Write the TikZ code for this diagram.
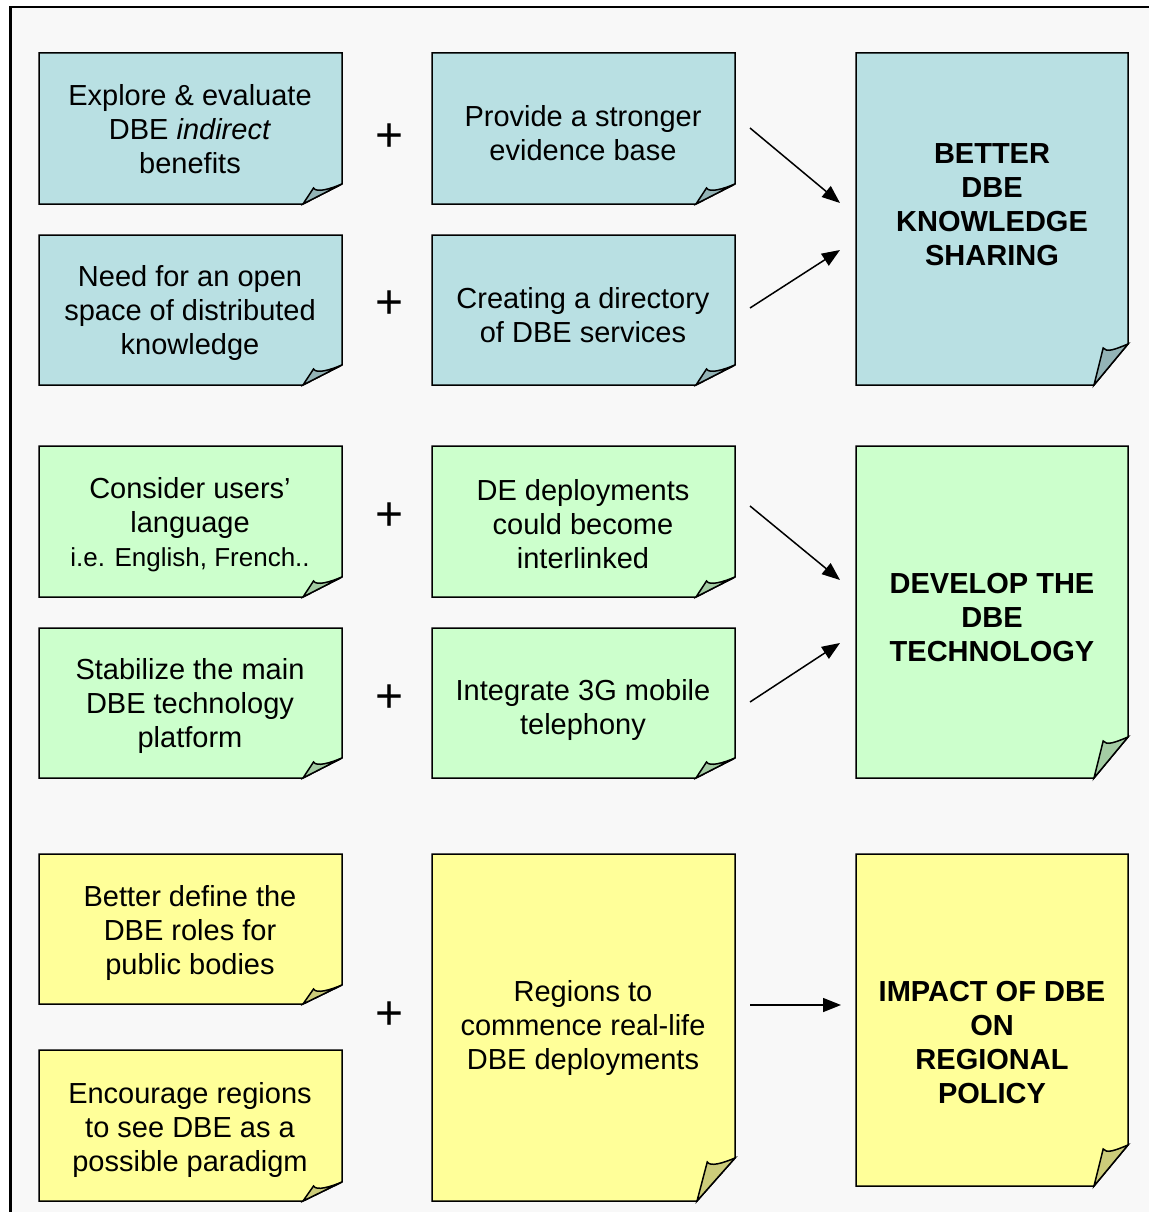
\documentclass[tikz,border=0pt]{standalone}
\usepackage{fontspec}
\setmainfont{Liberation Sans}
\usetikzlibrary{arrows.meta}
\definecolor{bluebody}{HTML}{B9E0E3}
\definecolor{bluefold}{HTML}{93B3B6}
\definecolor{greenbody}{HTML}{CCFFCC}
\definecolor{greenfold}{HTML}{A3CCA3}
\definecolor{yellowbody}{HTML}{FFFF99}
\definecolor{yellowfold}{HTML}{CCCC7A}
\definecolor{panel}{HTML}{F8F8F8}
% #1 colour prefix, #2 x0, #3 y0, #4 x1, #5 y1, #6 fold dx, #7 fold dy
\newcommand\paper[7]{%
  \draw[paperline, fill=#1body] (#2,#3) -- (#4,#3) -- (#4,#5-#7) -- (#4-#6,#5) -- (#2,#5) -- cycle;
  \draw[paperline, fill=#1fold] (#4-#6,#5) -- (#4-#6+0.27*#6,#5-#7+4)
     .. controls (#4-#6+0.27*#6+3,#5-#7+9) and (#4-12,#5-#7+5) .. (#4,#5-#7) -- cycle;
}
\begin{document}
\begin{tikzpicture}[x=1pt,y=-1pt,
  paperline/.style={line width=1.5pt, line join=miter},
  txt/.style={align=center, font=\fontsize{29}{34}\selectfont, inner sep=0pt},
  head/.style={align=center, font=\fontsize{29}{34}\selectfont\bfseries, inner sep=0pt},
  plus/.style={font=\fontsize{48}{48}\selectfont, inner sep=0pt},
  arr/.style={line width=1.5pt, -{Triangle[length=18pt,width=14pt]}}]
\useasboundingbox (0,0) rectangle (1149,1212);
\fill[white] (0,0) rectangle (1149,1212);
\fill[panel] (10.5,7) rectangle (1149,1212);
\draw[line width=2.2pt] (10.5,1212) -- (10.5,7) -- (1149,7);

% blue group
\paper{blue}{39}{53}{342}{204}{39}{20}
\paper{blue}{432}{53}{735}{204}{39}{20}
\paper{blue}{39}{235}{342}{385}{39}{20}
\paper{blue}{432}{235}{735}{385}{39}{20}
\paper{blue}{856}{53}{1128}{385}{34}{41}
\node[txt] (b11) at (190,129) {Explore \& evaluate\\DBE \textit{indirect}\\benefits};
\node[txt] (b12) at (583,133.5) {Provide a stronger\\evidence base};
\node[txt] (b21) at (190,313) {Need for an open\\space of distributed\\knowledge};
\node[txt] (b22) at (583,315) {Creating a directory\\of DBE services};
\node[head] (B) at (992,204.5) {BETTER\\DBE\\KNOWLEDGE\\SHARING};
\node[plus] (p1) at (390,138) {+};
\node[plus] (p2) at (390,305) {+};

% green group
\paper{green}{39}{446}{342}{597}{39}{20}
\paper{green}{432}{446}{735}{597}{39}{20}
\paper{green}{39}{628}{342}{778}{39}{20}
\paper{green}{432}{628}{735}{778}{39}{20}
\paper{green}{856}{446}{1128}{778}{34}{41}
\node[txt] (g11) at (190,525) {Consider users’\\language\\{\fontsize{26}{32}\selectfont i.e. English, French..}};
\node[txt] (g12) at (583,524) {DE deployments\\could become\\interlinked};
\node[txt] (g21) at (190,706) {Stabilize the main\\DBE technology\\platform};
\node[txt] (g22) at (583,710) {Integrate 3G mobile\\telephony};
\node[head] (G) at (992,618) {DEVELOP THE\\DBE\\TECHNOLOGY};
\node[plus] (p3) at (390,517) {+};
\node[plus] (p4) at (390,699) {+};

% yellow group
\paper{yellow}{39}{854}{342}{1004}{39}{19}
\paper{yellow}{39}{1050}{342}{1201}{39}{19}
\paper{yellow}{432}{854}{735}{1201}{38}{43}
\paper{yellow}{856}{854}{1128}{1186}{34}{41}
\node[txt] (y11) at (190,933) {Better define the\\DBE roles for\\public bodies};
\node[txt] (y21) at (190,1129.5) {Encourage regions\\to see DBE as a\\possible paradigm};
\node[txt] (ym) at (583,1027.5) {Regions to\\commence real-life\\DBE deployments};
\node[head] (Y) at (992,1043) {IMPACT OF DBE\\ON\\REGIONAL\\POLICY};
\node[plus] (p5) at (390,1016) {+};

% arrows
\coordinate (a1s) at (750,128);  \coordinate (a1e) at (840,203);
\coordinate (a2s) at (750,308);  \coordinate (a2e) at (840,250);
\coordinate (a3s) at (750,506);  \coordinate (a3e) at (840,580);
\coordinate (a4s) at (750,702);  \coordinate (a4e) at (840,643);
\coordinate (a5s) at (750,1005); \coordinate (a5e) at (841,1005);
\draw[arr] (a1s) -- (a1e);
\draw[arr] (a2s) -- (a2e);
\draw[arr] (a3s) -- (a3e);
\draw[arr] (a4s) -- (a4e);
\draw[arr] (a5s) -- (a5e);
\end{tikzpicture}
\end{document}
